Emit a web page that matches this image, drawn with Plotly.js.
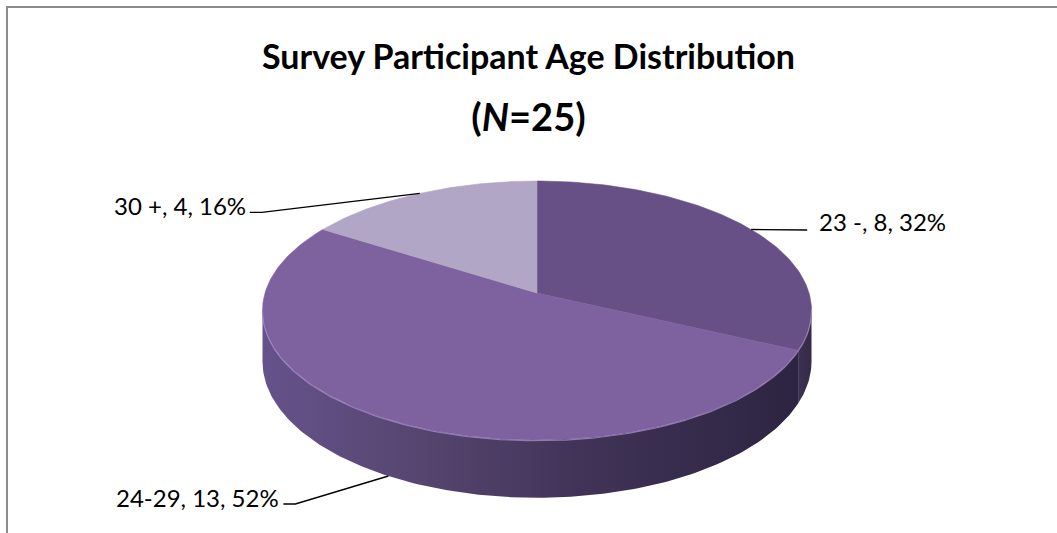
<!DOCTYPE html>
<html><head><meta charset="utf-8">
<script src="https://cdn.plot.ly/plotly-3.0.1.min.js"></script>
<style>html,body{margin:0;padding:0;background:#fff;} #chart{width:1057px;height:533px;}</style>
</head><body><div id="chart"></div>
<script>
// ---- data ----
const categories = ['23 -', '24-29', '30 +'];
const counts = [8, 13, 4];
const titleLine1 = 'Survey Participant Age Distribution';
const titleLine2 = '(<i>N</i>=25)';

// ---- styles ----
const topColors = ['#675086', '#7e619f', '#b1a6c5'];
const wallScales = [
  [[0, '#3e3153'], [1, '#342a47']],
  [[0, '#66528b'], [0.3, '#56456f'], [0.6, '#403357'], [1, '#2d2441']],
  [[0, '#8a7fa0'], [1, '#7a6f90']]
];
// perspective ellipse geometry (pixel units on the hidden axes)
const G = {cx: 537, cy: 293, R: 272, A: 127.1, b: 0.135, D: 50};
// label leader offsets
const labelCfg = [
  {ex: 46, ey: 0.5, ty: -8, side: 'left', bottom: false},
  {ex: -93, ey: 28, ty: -7, side: 'right', bottom: true},
  {ex: -158, ey: 19, ty: -7, side: 'right', bottom: false}
];

function proj(thDeg, bottom) {
  const t = thDeg * Math.PI / 180;
  const u = -Math.cos(t);
  const s = 1 / (1 - G.b * u);
  return [G.cx + G.R * Math.sin(t) * s, G.cy + G.A * u * s + (bottom ? G.D * s : 0)];
}

const total = counts.reduce((a, b) => a + b, 0);
const starts = [], ends = [];
let acc = 0;
counts.forEach(v => { starts.push(acc / total * 360); acc += v; ends.push(acc / total * 360); });

const thR = Math.acos(-G.b) * 180 / Math.PI;      // right silhouette
const thL = 360 - thR;                            // left silhouette

const traces = [];
// walls
counts.forEach((v, i) => {
  const lo = Math.max(starts[i], thR), hi = Math.min(ends[i], thL);
  if (hi <= lo) return;
  const xs = [], ys = [];
  const n = Math.max(2, Math.ceil(hi - lo));
  for (let k = 0; k <= n; k++) { const p = proj(lo + (hi - lo) * k / n, false); xs.push(p[0]); ys.push(p[1]); }
  for (let k = n; k >= 0; k--) { const p = proj(lo + (hi - lo) * k / n, true); xs.push(p[0]); ys.push(p[1]); }
  traces.push({type: 'scatter', mode: 'lines', x: xs, y: ys, fill: 'toself',
    fillgradient: {type: 'horizontal', colorscale: wallScales[i]},
    line: {width: 0}, hoverinfo: 'skip', showlegend: false});
});
// tops
counts.forEach((v, i) => {
  const xs = [G.cx], ys = [G.cy];
  const a0 = starts[i], a1 = ends[i];
  const n = Math.max(2, Math.ceil(a1 - a0));
  for (let k = 0; k <= n; k++) { const p = proj(a0 + (a1 - a0) * k / n, false); xs.push(p[0]); ys.push(p[1]); }
  xs.push(G.cx); ys.push(G.cy);
  traces.push({type: 'scatter', mode: 'lines', x: xs, y: ys, fill: 'toself', fillcolor: topColors[i],
    line: {width: 0.6, color: topColors[i]}, hoverinfo: 'skip', showlegend: false, name: categories[i]});
});
// rim highlight
(function () {
  const xs = [], ys = [];
  for (let t = thR; t <= thL; t += 1) { const p = proj(t, false); xs.push(p[0]); ys.push(p[1] + 0.8); }
  traces.push({type: 'scatter', mode: 'lines', x: xs, y: ys, line: {width: 1.2, color: 'rgba(160,140,195,0.8)'},
    hoverinfo: 'skip', showlegend: false});
})();
// leaders + labels
const annotations = [];
counts.forEach((v, i) => {
  const c = labelCfg[i];
  const mid = (starts[i] + ends[i]) / 2;
  const p = proj(mid, c.bottom);
  const elbow = [p[0] + c.ex, p[1] + c.ey];
  const endx = elbow[0] + (c.side === 'left' ? 10 : -12);
  traces.push({type: 'scatter', mode: 'lines', x: [p[0], elbow[0], endx], y: [p[1], elbow[1], elbow[1]],
    line: {width: 1.4, color: '#000'}, hoverinfo: 'skip', showlegend: false});
  const pct = Math.round(v / total * 100);
  annotations.push({x: endx + (c.side === 'left' ? 10 : -2), y: elbow[1] + c.ty, xref: 'x', yref: 'y',
    text: categories[i] + ', ' + v + ', ' + pct + '%', showarrow: false,
    xanchor: c.side === 'left' ? 'left' : 'right', yanchor: 'middle',
    font: {family: 'Lato, sans-serif', size: 24, color: '#000'}});
});

const layout = {
  width: 1057, height: 533,
  margin: {l: 0, r: 0, t: 0, b: 0, pad: 0},
  paper_bgcolor: '#fff', plot_bgcolor: '#fff',
  showlegend: false, hovermode: false,
  xaxis: {range: [0, 1057], visible: false, fixedrange: true},
  yaxis: {range: [533, 0], visible: false, fixedrange: true},
  title: {text: '<span style="font-size:34px"><b>' + titleLine1 + '</b></span><br><span style="font-size:38px"><b>' + titleLine2 + '</b></span>',
    font: {family: 'Lato, sans-serif', size: 48, color: '#000'},
    x: 0.5, xanchor: 'center', xref: 'paper', y: 1 - 69 / 533, yanchor: 'top', yref: 'container'},
  annotations: annotations,
  shapes: [{type: 'path', xref: 'x', yref: 'y', path: 'M 7 533 L 7 7 L 1057 7',
    line: {color: '#8c8c8c', width: 2}}]
};
Plotly.newPlot('chart', traces, layout, {staticPlot: true, displayModeBar: false});
</script>
</body></html>
